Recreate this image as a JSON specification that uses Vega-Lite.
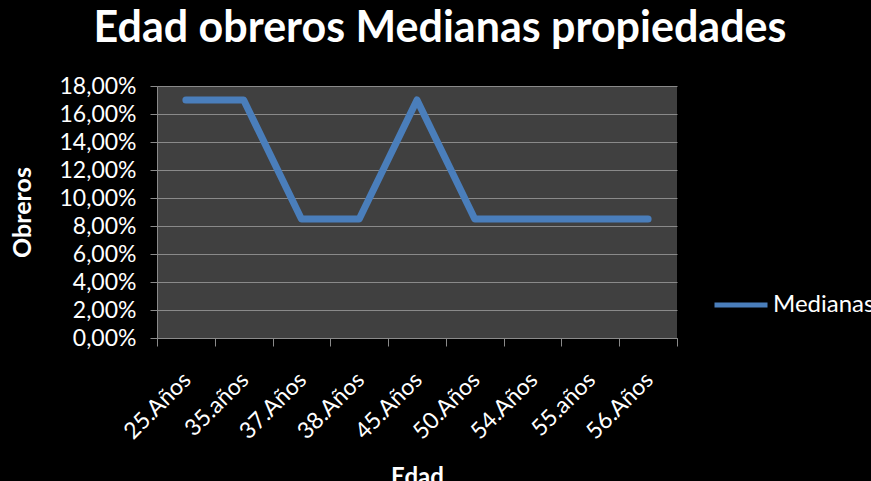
{
  "$schema": "https://vega.github.io/schema/vega-lite/v6.json",
  "width": 520,
  "height": 252,
  "autosize": {"type": "none"},
  "padding": {"left": 157, "top": 86, "right": 194, "bottom": 143},
  "background": "black",
  "config": {"view": {"fill": "#404040", "stroke": null}, "font": "Lato"},
  "title": {
    "text": "Edad obreros Medianas propiedades",
    "fontSize": 43,
    "fontWeight": "bold",
    "color": "white",
    "font": "Lato",
    "anchor": "middle",
    "frame": "group",
    "dx": 23,
    "offset": 32,
    "dy": 42,
    "baseline": "alphabetic"
  },
  "data": {
    "values": [
      {"edad": "25.Años", "valor": 0.17, "serie": "Medianas"},
      {"edad": "35.años", "valor": 0.17, "serie": "Medianas"},
      {"edad": "37.Años", "valor": 0.085, "serie": "Medianas"},
      {"edad": "38.Años", "valor": 0.085, "serie": "Medianas"},
      {"edad": "45.Años", "valor": 0.17, "serie": "Medianas"},
      {"edad": "50.Años", "valor": 0.085, "serie": "Medianas"},
      {"edad": "54.Años", "valor": 0.085, "serie": "Medianas"},
      {"edad": "55.años", "valor": 0.085, "serie": "Medianas"},
      {"edad": "56.Años", "valor": 0.085, "serie": "Medianas"}
    ]
  },
  "mark": {"type": "line", "strokeWidth": 7, "strokeCap": "round", "strokeJoin": "round"},
  "encoding": {
    "x": {
      "field": "edad",
      "type": "nominal",
      "sort": null,
      "scale": {"type": "band", "paddingInner": 0, "paddingOuter": 0},
      "axis": {
        "labelAngle": -45,
        "labelAlign": "right",
        "labelBaseline": "middle",
        "labelFontSize": 23,
        "labelColor": "white",
        "labelPadding": 30,
        "labelOffset": 1,
        "tickBand": "extent",
        "tickSize": 8,
        "tickColor": "#8a8a8a",
        "domainColor": "#8a8a8a",
        "grid": false,
        "title": "Edad",
        "titleFontSize": 24,
        "titleFontWeight": "bold",
        "titleColor": "white",
        "titleY": 146,
        "titleBaseline": "alphabetic"
      }
    },
    "y": {
      "field": "valor",
      "type": "quantitative",
      "scale": {"domain": [0, 0.18]},
      "axis": {
        "values": [0, 0.02, 0.04, 0.06, 0.08, 0.1, 0.12, 0.14, 0.16, 0.18],
        "labelExpr": "replace(format(datum.value, '.2%'), '.', ',')",
        "labelFontSize": 23,
        "labelColor": "white",
        "labelPadding": 14,
        "gridColor": "#8a8a8a",
        "domainColor": "#8a8a8a",
        "tickColor": "#8a8a8a",
        "tickSize": 7,
        "title": "Obreros",
        "titleFontSize": 25,
        "titleFontWeight": "bold",
        "titleColor": "white",
        "titleX": -135,
        "titleY": 126,
        "titleAngle": -90,
        "titleAlign": "center",
        "titleBaseline": "middle"
      }
    },
    "color": {
      "field": "serie",
      "type": "nominal",
      "scale": {"range": ["#4a7ebb"]},
      "legend": {
        "orient": "none",
        "legendX": 555,
        "legendY": 190,
        "title": null,
        "symbolType": "stroke",
        "symbolSize": 2809,
        "symbolStrokeWidth": 5,
        "labelFontSize": 24,
        "labelColor": "white",
        "labelFont": "Lato",
        "labelOffset": 3,
        "padding": 0
      }
    }
  }
}
